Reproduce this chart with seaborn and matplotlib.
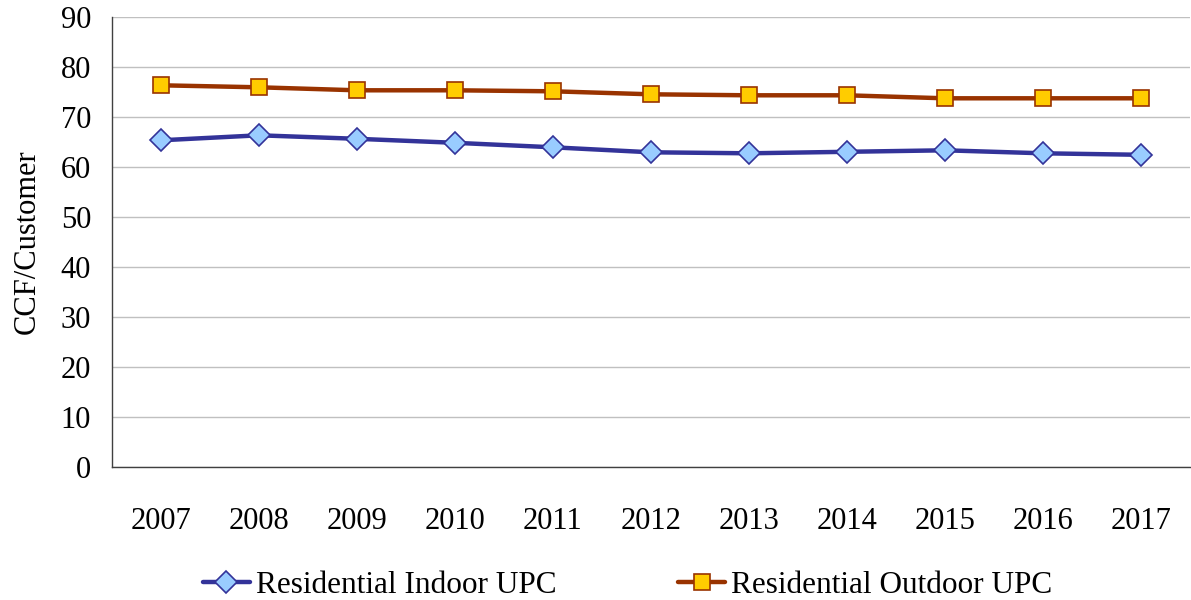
import pandas as pd
import seaborn as sns
import matplotlib.pyplot as plt
from matplotlib.ticker import FixedLocator

# values
years = ['2007', '2008', '2009', '2010', '2011', '2012', '2013', '2014', '2015', '2016', '2017']
indoor = [65.3, 66.3, 65.6, 64.8, 63.9, 62.9, 62.7, 63.0, 63.3, 62.7, 62.4]
outdoor = [76.3, 75.9, 75.3, 75.3, 75.1, 74.5, 74.3, 74.3, 73.7, 73.7, 73.7]
series_names = ['Residential Indoor UPC', 'Residential Outdoor UPC']

df = pd.DataFrame({
    'Year': years * 2,
    'UPC': indoor + outdoor,
    'Series': [series_names[0]] * len(years) + [series_names[1]] * len(years),
})

sns.set_style('white')
plt.rcParams['font.family'] = ['Liberation Serif', 'DejaVu Serif']
plt.rcParams['text.color'] = 'black'
plt.rcParams['xtick.color'] = 'black'
plt.rcParams['ytick.color'] = 'black'
plt.rcParams['axes.labelcolor'] = 'black'

fig = plt.figure(figsize=(11.91, 6), dpi=100)
ax = fig.add_axes([0.094, 0.222, 0.905, 0.75])

line_colors = {series_names[0]: '#333399', series_names[1]: '#993300'}
face_colors = ['#99CCFF', '#FFCC00']

sns.lineplot(data=df, x='Year', y='UPC', hue='Series', style='Series',
             palette=line_colors, markers=['D', 's'], dashes=False,
             linewidth=3.2, markersize=10, ax=ax, legend=False, sort=False)

# marker faces / edges
for line, fc, name in zip(ax.get_lines(), face_colors, series_names):
    line.set_markerfacecolor(fc)
    line.set_markeredgecolor(line_colors[name])
    line.set_markeredgewidth(1.2)
    if name == series_names[0]:
        line.set_markersize(11)
    else:
        line.set_markersize(11.5)

ax.set_ylim(0, 90)
ax.set_xlim(-0.5, len(years) - 0.5)
ax.set_yticks(range(0, 91, 10))
ax.yaxis.grid(True, color='#C0C0C0', linewidth=1)
ax.set_axisbelow(True)

ax.set_xticks(range(len(years)))
ax.set_xticklabels(years)
ax.xaxis.set_minor_locator(FixedLocator([i - 0.5 for i in range(len(years) + 1)]))
ax.tick_params(axis='x', which='major', length=0, pad=29, labelsize=22)
ax.tick_params(axis='x', which='minor', length=8, width=1, direction='out')
ax.tick_params(axis='y', length=6, width=1, direction='out', pad=9, labelsize=22)

ax.set_xlabel('')
ax.set_ylabel('CCF/Customer', fontsize=22, labelpad=14)

for s in ['top', 'right']:
    ax.spines[s].set_visible(False)
for s in ['left', 'bottom']:
    ax.spines[s].set_color('#404040')
    ax.spines[s].set_linewidth(1)

handles = ax.get_lines()[:2]
fig.legend(handles, series_names, loc='lower center', bbox_to_anchor=(0.527, -0.047),
           ncol=2, frameon=False, fontsize=22.5, handlelength=1.5,
           handletextpad=0.2, columnspacing=3.9)

fig.savefig('out.png', dpi=100)
